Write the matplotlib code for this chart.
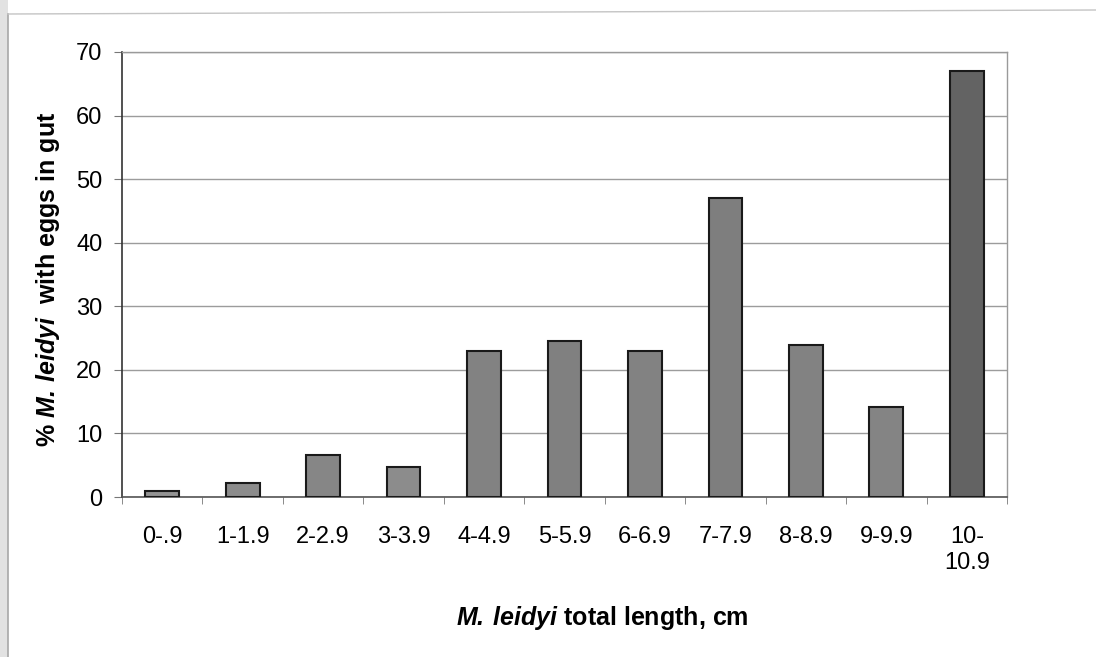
import matplotlib
matplotlib.use("Agg")
import matplotlib.pyplot as plt
from matplotlib.patches import Rectangle
from matplotlib.lines import Line2D
import numpy as np

# Size classes and percentage of M. leidyi with eggs in gut
size_classes = ["0-.9", "1-1.9", "2-2.9", "3-3.9", "4-4.9", "5-5.9",
                "6-6.9", "7-7.9", "8-8.9", "9-9.9", "10-\n10.9"]
pct_with_eggs = [1.0, 2.2, 6.6, 4.7, 23.0, 24.5, 23.0, 47.0, 23.9, 14.2, 67.0]
bar_colors = ["#939393", "#8c8c8c", "#868686", "#8c8c8c", "#828282", "#808080",
              "#828282", "#7e7e7e", "#828282", "#848484", "#636363"]
y_ticks = [0, 10, 20, 30, 40, 50, 60, 70]

plt.rcParams["font.family"] = ["Liberation Sans", "DejaVu Sans"]
plt.rcParams["mathtext.fontset"] = "custom"
plt.rcParams["mathtext.rm"] = "Liberation Sans"
plt.rcParams["mathtext.it"] = "Liberation Sans:italic"
plt.rcParams["mathtext.bf"] = "Liberation Sans:bold"
plt.rcParams["mathtext.bfit"] = "Liberation Sans:italic:bold"

W, H = 1096, 657
fig = plt.figure(figsize=(W / 100, H / 100), dpi=100)
fig.patch.set_facecolor("white")

# outer chart frame
fig.add_artist(Rectangle((0, 0), 8 / W, 1, transform=fig.transFigure,
                         facecolor="#e2e2e2", edgecolor="none", zorder=0))
fig.add_artist(Line2D([8 / W, 8 / W], [0, 1 - 14 / H], transform=fig.transFigure,
                      color="#a8a8a8", lw=1.2))
fig.add_artist(Line2D([8 / W, 1], [1 - 14 / H, 1 - 10 / H], transform=fig.transFigure,
                      color="#c4c4c4", lw=1.0))

left, right, top, bottom = 122, 1007, 52, 497
ax = fig.add_axes([left / W, 1 - bottom / H, (right - left) / W, (bottom - top) / H])

x = np.arange(len(size_classes))
ax.bar(x, pct_with_eggs, width=0.42, color=bar_colors, edgecolor="#1a1a1a",
       linewidth=1.5, zorder=3)

ax.set_xlim(-0.5, len(size_classes) - 0.5)
ax.set_ylim(0, 70)
ax.set_yticks(y_ticks)
ax.yaxis.grid(True, color="#9c9c9c", linewidth=1.0, zorder=0)
ax.set_axisbelow(True)

ax.set_xticks(x)
ax.set_xticklabels(size_classes, fontsize=17, va="top", linespacing=1.2)
ax.set_xticks(np.arange(-0.5, len(size_classes)), minor=True)
ax.tick_params(axis="x", which="major", length=0, pad=21)
ax.tick_params(axis="x", which="minor", length=5, direction="out", color="#777777")
ax.tick_params(axis="y", length=6, pad=8, labelsize=17, color="#777777")

for side in ("top", "right"):
    ax.spines[side].set_color("#9a9a9a")
    ax.spines[side].set_linewidth(1.0)
ax.spines["left"].set_color("#333333")
ax.spines["bottom"].set_color("#555555")
ax.spines["left"].set_linewidth(1.2)
ax.spines["bottom"].set_linewidth(1.2)

ax.set_ylabel(r"% $\mathbfit{M.\:leidyi}$  with eggs in gut", fontsize=18,
              fontweight="bold")
ax.yaxis.set_label_coords((48 - left) / (right - left), 0.49)
ax.set_xlabel(r"$\mathbfit{M.\:leidyi}$ total length, cm", fontsize=18,
              fontweight="bold")
ax.xaxis.set_label_coords((602 - left) / (right - left), -(618 - bottom) / (bottom - top))
ax.xaxis.label.set_va("center")
ax.yaxis.label.set_va("center")

fig.savefig("out.png", dpi=100)
